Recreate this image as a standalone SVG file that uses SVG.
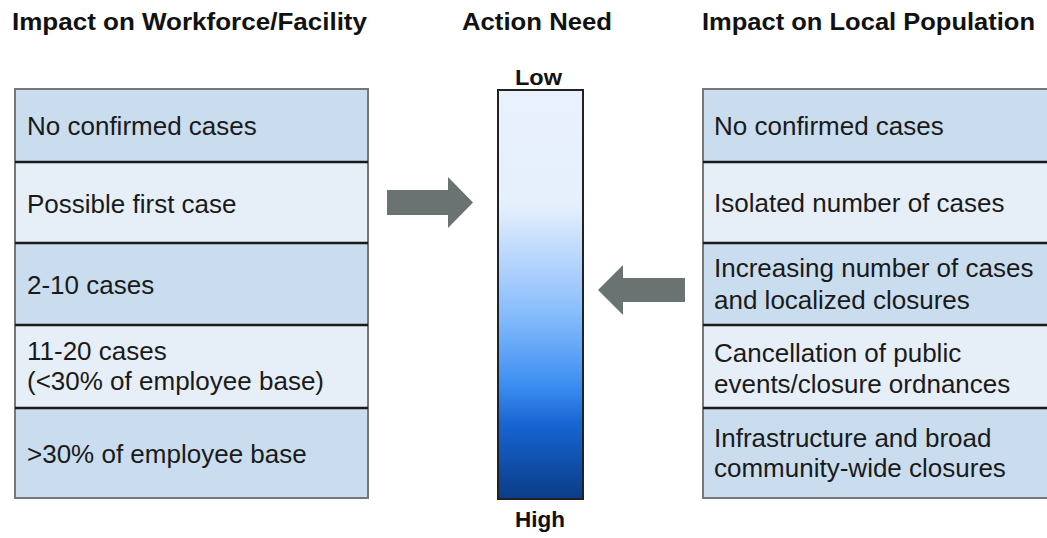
<svg xmlns="http://www.w3.org/2000/svg" width="1047" height="538" viewBox="0 0 1047 538">
<defs>
<style>
.hdr{font-family:"Liberation Sans",Arial,sans-serif;font-weight:bold;font-size:24px;fill:#111}
.lbl{font-family:"Liberation Sans",Arial,sans-serif;font-weight:bold;font-size:22px;fill:#111}
.txt{font-family:"Liberation Sans",Arial,sans-serif;font-size:26px;fill:#1a1a1a}
.dark{fill:#C9DDEF}
.light{fill:#E6EEF8}
.div{stroke:#1a1a1a;stroke-width:2.5}
.frame{fill:none;stroke:#777;stroke-width:2}
.arrow{fill:#6A7371}
</style>
<linearGradient id="g" x1="0" y1="0" x2="0" y2="1">
<stop offset="0" stop-color="#E8F1FC"/>
<stop offset="0.28" stop-color="#E6F0FC"/>
<stop offset="0.4" stop-color="#BCD8FC"/>
<stop offset="0.55" stop-color="#86BCFC"/>
<stop offset="0.72" stop-color="#3D8EF2"/>
<stop offset="0.82" stop-color="#1664D2"/>
<stop offset="1" stop-color="#0A3D86"/>
</linearGradient>
</defs>
<rect width="1047" height="538" fill="#fff"/>
<text class="hdr" x="12" y="30" textLength="355" lengthAdjust="spacingAndGlyphs">Impact on Workforce/Facility</text>
<text class="hdr" x="462" y="30" textLength="150" lengthAdjust="spacingAndGlyphs">Action Need</text>
<text class="hdr" x="702" y="30" textLength="333" lengthAdjust="spacingAndGlyphs">Impact on Local Population</text>

<g id="workforce">
<rect class="dark" x="15" y="89" width="353" height="73"/>
<rect class="light" x="15" y="162" width="353" height="81"/>
<rect class="dark" x="15" y="243" width="353" height="82"/>
<rect class="light" x="15" y="325" width="353" height="83"/>
<rect class="dark" x="15" y="408" width="353" height="90"/>
<rect class="frame" x="15" y="89" width="353" height="409"/>
<line class="div" x1="15" y1="162" x2="368" y2="162"/>
<line class="div" x1="15" y1="243" x2="368" y2="243"/>
<line class="div" x1="15" y1="325" x2="368" y2="325"/>
<line class="div" x1="15" y1="408" x2="368" y2="408"/>
<text class="txt" x="27" y="135">No confirmed cases</text>
<text class="txt" x="27" y="213">Possible first case</text>
<text class="txt" x="27" y="294">2-10 cases</text>
<text class="txt" x="27" y="360">11-20 cases</text>
<text class="txt" x="27" y="390">(&lt;30% of employee base)</text>
<text class="txt" x="27" y="463">&gt;30% of employee base</text>
</g>

<g id="action-need">
<rect x="498" y="90" width="85" height="409" fill="url(#g)" stroke="#222" stroke-width="2"/>
<text class="lbl" x="515" y="85" textLength="47" lengthAdjust="spacingAndGlyphs">Low</text>
<text class="lbl" x="515" y="527" textLength="50" lengthAdjust="spacingAndGlyphs">High</text>
</g>

<g id="population">
<rect class="dark" x="703" y="89" width="345" height="73"/>
<rect class="light" x="703" y="162" width="345" height="81"/>
<rect class="dark" x="703" y="243" width="345" height="82"/>
<rect class="light" x="703" y="325" width="345" height="83"/>
<rect class="dark" x="703" y="408" width="345" height="90"/>
<rect class="frame" x="703" y="89" width="345" height="409"/>
<line class="div" x1="703" y1="162" x2="1047" y2="162"/>
<line class="div" x1="703" y1="243" x2="1047" y2="243"/>
<line class="div" x1="703" y1="325" x2="1047" y2="325"/>
<line class="div" x1="703" y1="408" x2="1047" y2="408"/>
<text class="txt" x="714" y="135">No confirmed cases</text>
<text class="txt" x="714" y="212">Isolated number of cases</text>
<text class="txt" x="714" y="277">Increasing number of cases</text>
<text class="txt" x="714" y="309">and localized closures</text>
<text class="txt" x="714" y="362">Cancellation of public</text>
<text class="txt" x="714" y="393">events/closure ordnances</text>
<text class="txt" x="714" y="447">Infrastructure and broad</text>
<text class="txt" x="714" y="477">community-wide closures</text>
</g>

<g id="connectors">
<polygon class="arrow" points="387,190 448,190 448,177 473,202.5 448,228 448,215 387,215"/>
<polygon class="arrow" points="685,278 623,278 623,265 598,290 623,315 623,302 685,302"/>
</g>
</svg>
